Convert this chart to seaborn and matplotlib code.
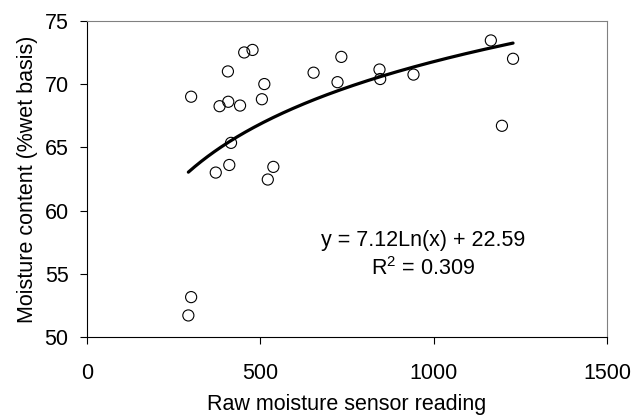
import numpy as np
import pandas as pd
import matplotlib
matplotlib.use("Agg")
import matplotlib.pyplot as plt
import seaborn as sns

# raw sensor reading vs moisture content
sensor = [301, 407, 454, 478, 654, 734, 723, 512, 505, 383, 408, 442, 416,
          372, 411, 538, 522, 301, 293, 844, 846, 942, 1165, 1229, 1197]
moisture = [69.0, 71.0, 72.5, 72.7, 70.9, 72.15, 70.15, 70.0, 68.8, 68.25, 68.6,
            68.3, 65.35, 63.0, 63.6, 63.45, 62.45, 53.15, 51.7, 71.15, 70.4,
            70.75, 73.45, 72.0, 66.7]

# log trendline coefficients as printed on the chart
fit_a = 7.12
fit_b = 22.59
fit_r2 = 0.309

df = pd.DataFrame({"sensor": sensor, "moisture": moisture})

sns.set_style("ticks")
plt.rcParams["font.family"] = ["Liberation Sans", "DejaVu Sans"]
plt.rcParams["mathtext.fontset"] = "custom"
plt.rcParams["mathtext.rm"] = "Liberation Sans"
plt.rcParams["mathtext.it"] = "Liberation Sans"
plt.rcParams["text.color"] = "black"
plt.rcParams["axes.labelcolor"] = "black"

fig = plt.figure(figsize=(6.33, 4.17), dpi=100)
ax = fig.add_axes([0.137, 0.192, 0.822, 0.758])

# trendline over the range of the data
xs = np.linspace(df["sensor"].min(), df["sensor"].max(), 200)
trend = pd.DataFrame({"x": xs, "y": fit_a * np.log(xs) + fit_b})
sns.lineplot(data=trend, x="x", y="y", ax=ax, color="black", linewidth=2.3)

sns.scatterplot(data=df, x="sensor", y="moisture", ax=ax, marker="o", s=64,
                facecolor="none", edgecolor="black", linewidth=0.8, zorder=3)

ax.set_xlim(0, 1500)
ax.set_ylim(50, 75)
ax.set_xticks([0, 500, 1000, 1500])
ax.set_yticks([50, 55, 60, 65, 70, 75])
ax.tick_params(axis="both", direction="out", length=5, width=0.8,
               labelsize=15.5, colors="black")
ax.tick_params(axis="x", pad=14)
ax.tick_params(axis="y", pad=8)

ax.set_xlabel("Raw moisture sensor reading", fontsize=15.5, labelpad=7)
ax.set_ylabel("Moisture content (%wet basis)", fontsize=15.5, labelpad=5)

for side in ["top", "right"]:
    ax.spines[side].set_visible(True)
    ax.spines[side].set_color("#808080")
    ax.spines[side].set_linewidth(0.8)
for side in ["left", "bottom"]:
    ax.spines[side].set_color("black")
    ax.spines[side].set_linewidth(0.8)

ax.text(970, 56.5, f"y = {fit_a:.2f}Ln(x) + {fit_b:.2f}\nR$^{{2}}$ = {fit_r2:.3f}",
        ha="center", va="center", multialignment="center", fontsize=15.5,
        linespacing=1.35)

fig.savefig("out.png", dpi=100)
